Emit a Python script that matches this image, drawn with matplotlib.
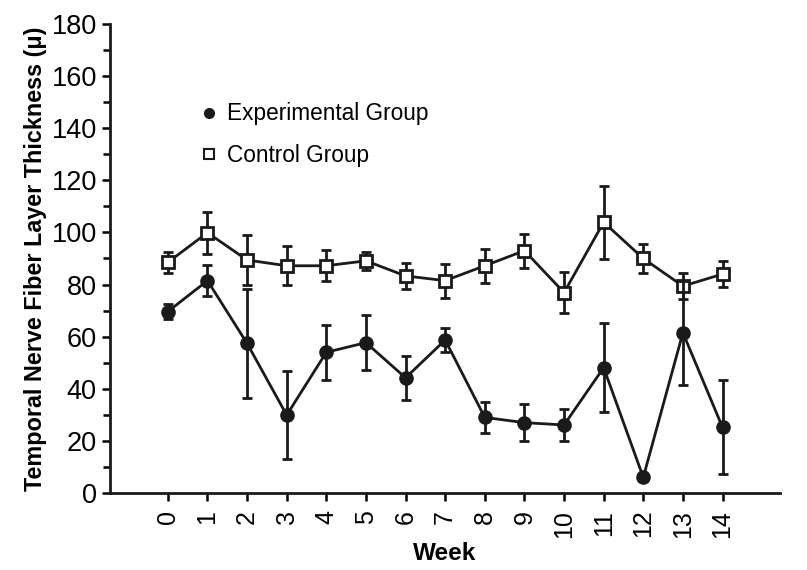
import matplotlib
matplotlib.use("Agg")
import matplotlib.pyplot as plt
from matplotlib.lines import Line2D
from matplotlib.ticker import MultipleLocator

plt.rcParams['font.family'] = ['Liberation Sans', 'DejaVu Sans']

weeks = list(range(15))
week_labels = [str(w) for w in weeks]

# experimental group: mean and error
exp_mean = [69.6, 81.5, 57.4, 29.9, 54.0, 57.7, 44.2, 58.7, 29.0, 27.0, 26.1, 48.1, 6.0, 61.5, 25.2]
exp_err = [3.0, 6.0, 21.0, 17.0, 10.5, 10.5, 8.5, 4.5, 6.0, 7.0, 6.0, 17.0, 0.0, 20.0, 18.0]

# control group: mean and error
ctl_mean = [88.5, 99.9, 89.4, 87.2, 87.2, 89.1, 83.3, 81.5, 87.2, 93.0, 76.9, 103.9, 90.0, 79.4, 84.0]
ctl_err = [4.0, 8.0, 9.5, 7.5, 6.0, 3.5, 5.0, 6.5, 6.5, 6.5, 8.0, 14.0, 5.5, 5.0, 5.0]

fig = plt.figure(figsize=(8.07, 5.70), dpi=100)
ax = fig.add_axes([0.1363, 0.1351, 0.8302, 0.8229])

ax.errorbar(weeks, ctl_mean, yerr=ctl_err, color='#1a1a1a', lw=2, marker='s',
            ms=8, mfc='white', mec='#1a1a1a', mew=2, capsize=3.5, capthick=2,
            elinewidth=2, zorder=3)
ax.errorbar(weeks, exp_mean, yerr=exp_err, color='#1a1a1a', lw=2, marker='o',
            ms=9.5, mfc='#1a1a1a', mec='#1a1a1a', capsize=3.5, capthick=2,
            elinewidth=2, zorder=4)

ax.set_xlim(-1.46, 15.45)
ax.set_ylim(0, 180)
ax.set_xticks(weeks)
ax.set_xticklabels(week_labels, rotation=90, fontsize=18)
ax.yaxis.set_major_locator(MultipleLocator(20))
ax.yaxis.set_minor_locator(MultipleLocator(10))
ax.tick_params(axis='y', labelsize=19.5, width=1.8, length=6, direction='out')
ax.tick_params(axis='y', which='minor', width=1.8, length=5)
ax.tick_params(axis='x', width=1.8, length=6, direction='out', pad=6)

for s in ['top', 'right']:
    ax.spines[s].set_visible(False)
for s in ['left', 'bottom']:
    ax.spines[s].set_linewidth(2)
    ax.spines[s].set_color('#1a1a1a')

ax.set_xlabel('Week', fontsize=17.5, fontweight='bold', labelpad=3)
ax.set_ylabel('Temporal Nerve Fiber Layer Thickness (μ)', fontsize=16.8,
              fontweight='bold', labelpad=3)

handles = [
    Line2D([], [], ls='none', marker='o', ms=7, mfc='#1a1a1a', mec='#1a1a1a'),
    Line2D([], [], ls='none', marker='s', ms=7, mfc='white', mec='#1a1a1a', mew=1.5),
]
ax.legend(handles, ['Experimental Group', 'Control Group'], loc='upper left',
          bbox_to_anchor=(0.1, 0.876), frameon=False, fontsize=16.3,
          handlelength=1.0, handletextpad=0.3, labelspacing=0.8)

fig.savefig('out.png', dpi=100)
